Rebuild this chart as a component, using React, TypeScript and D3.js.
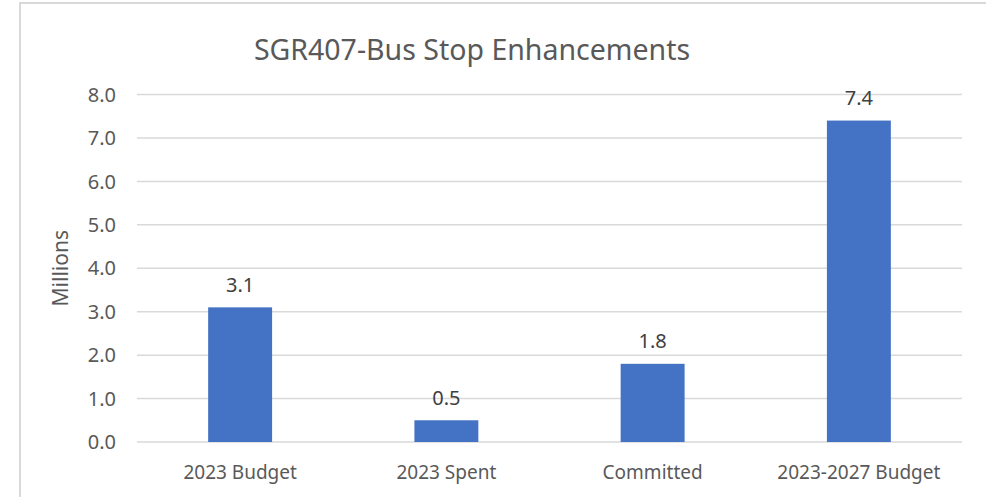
import * as d3 from "d3";

const categories = ["2023 Budget", "2023 Spent", "Committed", "2023-2027 Budget"];
const values = [3.1, 0.5, 1.8, 7.4];
const yTicks = [0, 1, 2, 3, 4, 5, 6, 7, 8];

const title = "SGR407-Bus Stop Enhancements";
const yLabel = "Millions";

const W = 986, H = 497;
const font = "'Noto Sans', sans-serif";
const textColor = "#595959";

export default function App() {
  const x = d3.scaleBand<string>()
    .domain(categories)
    .range([137, 962])
    .paddingInner(0.69)
    .paddingOuter(0.345);

  const y = d3.scaleLinear().domain([0, 8]).range([442, 94.5]);

  return (
    <svg width={W} height={H} style={{ position: "absolute", left: 0, top: 0, background: "#fff" }}>
      <rect x={0} y={0} width={W} height={H} fill="#fff" />
      {/* chart border, runs past right/bottom edge */}
      <rect x={20} y={3} width={W + 10} height={H + 10} fill="none" stroke="#d9d9d9" strokeWidth={2} />

      <text x={472} y={59.5} textAnchor="middle" fontFamily={font} fontSize={28.5} fill={textColor}>
        {title}
      </text>

      {yTicks.map(t => (
        <g key={t}>
          <line x1={137} x2={962} y1={y(t)} y2={y(t)} stroke="#d9d9d9" strokeWidth={1.5} />
          <text x={116} y={y(t)} dy="0.36em" textAnchor="end" fontFamily={font} fontSize={20} fill={textColor}>
            {d3.format(".1f")(t)}
          </text>
        </g>
      ))}

      <text transform={`translate(68,${y(4)}) rotate(-90)`} textAnchor="middle" fontFamily={font} fontSize={21} fill={textColor}>
        {yLabel}
      </text>

      {categories.map((c, i) => (
        <g key={c}>
          <rect x={x(c)} y={y(values[i])} width={x.bandwidth()} height={y(0) - y(values[i])} fill="#4472C4" />
          <text x={x(c)! + x.bandwidth() / 2} y={y(values[i]) - 15.5} textAnchor="middle" fontFamily={font} fontSize={20} fill="#404040">
            {d3.format(".1f")(values[i])}
          </text>
          <text x={x(c)! + x.bandwidth() / 2} y={479} textAnchor="middle" fontFamily={font} fontSize={19} fill={textColor}>
            {c}
          </text>
        </g>
      ))}
    </svg>
  );
}
